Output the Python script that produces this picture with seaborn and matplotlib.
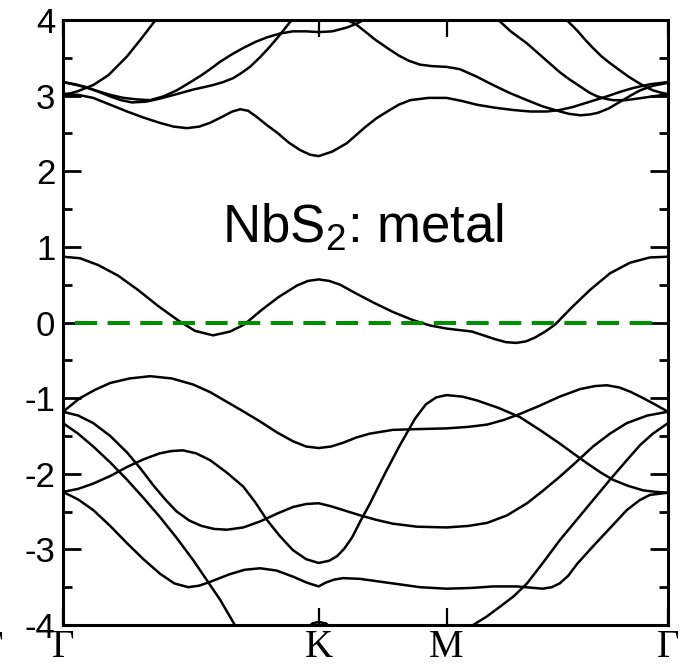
import matplotlib
matplotlib.use('Agg')
import matplotlib.pyplot as plt
import numpy as np
import pandas as pd
import seaborn as sns

# ---- path G-K-M-G, k given in % of the total path length ----
k_ticks = [0.0, 42.26, 63.40, 100.0]
k_labels = ['Γ', 'K', 'M', 'Γ']

# ---- bands (k, E in eV) ----
# conduction band crossing E_F
c_k = [0, 2.8, 5.8, 9.1, 12.4, 15.7, 19.0, 21.8, 24.8, 27.6, 29.9, 32.9, 35.7, 38.7, 40.5, 42.26,
       44.0, 45.8, 48.3, 51.4, 54.5, 57.9, 60.7, 63.4, 65.5, 67.6, 69.5, 71.4, 73.2, 74.9, 76.5,
       78.0, 79.7, 81.3, 84.1, 87.1, 90.4, 93.7, 97.0, 100]
c_e = [0.87, 0.85, 0.76, 0.62, 0.43, 0.22, 0.03, -0.11, -0.17, -0.12, -0.03, 0.17, 0.34, 0.49, 0.55, 0.57,
       0.55, 0.50, 0.39, 0.26, 0.14, 0.03, -0.04, -0.08, -0.10, -0.12, -0.17, -0.22, -0.26, -0.27, -0.25,
       -0.20, -0.12, -0.03, 0.20, 0.43, 0.65, 0.79, 0.86, 0.87]

# upper bands
u1_k = [0, 1.2, 2.5, 5.0, 7.5, 10.6, 13.0, 15.5]
u1_e = [3.02, 3.03, 3.06, 3.14, 3.27, 3.52, 3.76, 4.02]

l_k = [0, 2.5, 5.0, 7.8, 10.6, 13.3, 16.0, 18.3, 20.5, 22.5, 24.3, 26.3, 28.0, 29.3, 30.6, 32.0,
       33.7, 35.4, 37.3, 39.2, 40.8, 42.26, 44.5, 46.9, 49.9, 51.8, 53.6, 55.5, 57.4, 60.4, 63.4,
       65.9, 68.4, 71.4, 74.4, 77.2, 80.0, 82.1, 84.3, 87.1, 89.9, 92.1, 94.2, 97.0, 100]
l_e = [3.02, 3.01, 2.97, 2.88, 2.79, 2.71, 2.64, 2.59, 2.57, 2.59, 2.64, 2.72, 2.79, 2.82, 2.80, 2.72,
       2.61, 2.51, 2.38, 2.28, 2.22, 2.20, 2.26, 2.37, 2.58, 2.70, 2.79, 2.88, 2.94, 2.97, 2.97,
       2.93, 2.88, 2.84, 2.81, 2.79, 2.79, 2.81, 2.85, 2.92, 2.99, 3.05, 3.10, 3.15, 3.18]

p_k = [0, 2.8, 5.3, 7.8, 10.0, 12.2, 14.4, 16.6, 18.8, 20.9, 22.9, 24.5, 26.0, 28.0, 29.8, 31.8,
       33.7, 35.8, 38.0, 40.2, 42.26, 44.5, 46.9, 48.5, 50.4]
p_e = [3.18, 3.13, 3.07, 3.01, 2.97, 2.95, 2.94, 2.99, 3.07, 3.17, 3.27, 3.36, 3.45, 3.55, 3.63, 3.71,
       3.77, 3.82, 3.85, 3.85, 3.84, 3.85, 3.90, 3.95, 4.03]

q_k = [0, 2.0, 4.0, 5.9, 7.8, 9.6, 11.4, 13.7, 16.0, 18.8, 21.5, 23.2, 24.8, 26.5, 28.1, 29.5,
       30.9, 32.6, 34.0, 35.4, 36.7, 38.0]
q_e = [3.18, 3.15, 3.11, 3.05, 2.99, 2.94, 2.91, 2.92, 2.96, 3.02, 3.08, 3.11, 3.14, 3.18, 3.23, 3.30,
       3.38, 3.51, 3.63, 3.76, 3.89, 4.02]

r_k = [46.3, 48.3, 49.9, 51.6, 53.6, 55.5, 57.2, 59.0, 61.0, 63.4, 65.6, 67.0, 68.4, 71.1, 73.7,
       76.7, 79.2, 81.7, 83.6, 85.5, 87.0, 88.3, 90.2, 92.1, 93.8, 95.4, 97.5, 100]
r_e = [4.02, 3.95, 3.85, 3.74, 3.63, 3.53, 3.46, 3.41, 3.39, 3.38, 3.35, 3.30, 3.25, 3.14, 3.04,
       2.94, 2.86, 2.80, 2.76, 2.74, 2.75, 2.77, 2.83, 2.92, 3.00, 3.07, 3.13, 3.17]

s1_k = [71.7, 74.0, 76.7, 79.4, 82.1, 83.8, 85.5, 87.0, 88.3, 89.6, 90.9, 93.0, 94.9, 97.5, 100]
s1_e = [4.02, 3.85, 3.69, 3.50, 3.31, 3.21, 3.12, 3.04, 2.99, 2.96, 2.94, 2.94, 2.96, 2.99, 3.02]

s2_k = [83.0, 85.0, 86.3, 87.6, 89.0, 90.4, 92.1, 93.5, 94.9, 96.2, 97.5, 98.8, 100]
s2_e = [4.02, 3.86, 3.74, 3.63, 3.52, 3.43, 3.33, 3.25, 3.18, 3.12, 3.07, 3.04, 3.02]

# valence bands
v1_k = [0, 1.4, 2.8, 5.3, 7.8, 11.0, 14.4, 18.0, 21.5, 24.3, 27.1, 29.9, 32.6, 35.3, 38.0, 40.2,
        42.26, 44.3, 46.3, 48.5, 50.7, 54.5, 58.5, 63.4, 67.0, 70.1, 72.8, 75.5, 78.8, 82.1, 85.5,
        88.0, 89.9, 92.0, 93.9, 95.9, 98.0, 100]
v1_e = [-1.18, -1.09, -1.00, -0.89, -0.80, -0.74, -0.71, -0.74, -0.82, -0.92, -1.05, -1.18, -1.31,
        -1.45, -1.57, -1.64, -1.66, -1.64, -1.59, -1.52, -1.47, -1.42, -1.41, -1.40, -1.38, -1.35,
        -1.29, -1.21, -1.10, -0.98, -0.88, -0.84, -0.83, -0.86, -0.92, -1.00, -1.09, -1.18]

v2_k = [0, 2.5, 5.0, 7.8, 10.6, 13.3, 16.0, 17.9, 19.8, 22.0, 24.3, 27.0, 29.8, 31.8, 33.7, 35.8,
        38.0, 40.2, 42.26, 44.0, 45.3, 46.5, 47.8, 49.2, 50.7, 53.2, 55.7, 58.2, 60.0, 61.7, 63.4,
        66.0, 68.4, 72.0, 75.5, 78.8, 82.1, 84.5, 86.6, 88.8, 90.9, 93.4, 95.9, 98.0, 100]
v2_e = [-2.24, -2.20, -2.13, -2.03, -1.91, -1.81, -1.73, -1.70, -1.69, -1.73, -1.82, -1.98, -2.17,
        -2.38, -2.61, -2.82, -3.01, -3.13, -3.18, -3.15, -3.09, -2.99, -2.84, -2.62, -2.40, -2.00,
        -1.62, -1.27, -1.08, -0.99, -0.96, -0.98, -1.03, -1.13, -1.25, -1.42, -1.60, -1.74, -1.86,
        -1.98, -2.08, -2.16, -2.22, -2.24, -2.25]

v3_k = [0, 2.5, 5.0, 7.8, 10.6, 12.8, 14.9, 16.9, 18.8, 20.9, 22.9, 25.0, 27.1, 29.8, 32.6, 35.3,
        38.0, 40.2, 42.26, 44.3, 46.3, 49.1, 51.8, 54.5, 58.5, 63.4, 67.0, 70.1, 73.4, 76.7, 79.4,
        82.1, 84.9, 87.6, 90.4, 93.2, 96.6, 100]
v3_e = [-1.18, -1.23, -1.33, -1.50, -1.72, -1.93, -2.15, -2.34, -2.50, -2.62, -2.69, -2.73, -2.74,
        -2.71, -2.63, -2.53, -2.44, -2.40, -2.39, -2.43, -2.48, -2.55, -2.61, -2.66, -2.70, -2.71,
        -2.69, -2.65, -2.55, -2.39, -2.22, -2.04, -1.84, -1.64, -1.47, -1.33, -1.23, -1.18]

v4_k = [0, 2.5, 5.0, 7.8, 10.6, 13.3, 16.0, 18.4, 20.7, 22.5, 24.3, 27.5, 30.0, 32.6, 35.3, 38.0,
        40.3, 42.26, 43.4, 44.8, 46.3, 49.1, 54.5, 59.0, 63.4, 67.5, 71.1, 75.0, 79.3, 80.8, 82.1,
        83.5, 85.0, 87.6, 90.4, 93.2, 95.3, 97.0, 100]
v4_e = [-2.24, -2.34, -2.48, -2.69, -2.92, -3.13, -3.32, -3.45, -3.50, -3.48, -3.43, -3.33, -3.27,
        -3.25, -3.28, -3.36, -3.44, -3.49, -3.44, -3.40, -3.38, -3.39, -3.45, -3.50, -3.52, -3.51,
        -3.49, -3.49, -3.52, -3.50, -3.45, -3.35, -3.19, -2.96, -2.72, -2.48, -2.35, -2.28, -2.25]

v5_k = [0, 2.5, 5.0, 7.8, 10.6, 13.3, 16.0, 18.8, 21.5, 23.8, 26.0, 28.4, 30.0]
v5_e = [-1.33, -1.47, -1.64, -1.85, -2.08, -2.32, -2.57, -2.85, -3.14, -3.41, -3.67, -4.00, -4.20]

v6_k = [65.6, 67.8, 70.0, 72.2, 74.5, 76.7, 79.4, 82.1, 84.9, 87.6, 90.4, 93.2, 95.4, 97.5, 100]
v6_e = [-4.15, -4.00, -3.89, -3.76, -3.62, -3.45, -3.17, -2.88, -2.61, -2.35, -2.08, -1.82, -1.62,
        -1.47, -1.33]

v7_k = [40.3, 41.2, 42.26, 43.5, 44.3]
v7_e = [-4.05, -3.98, -3.96, -3.98, -4.05]

# Fermi level
e_fermi = 0.0
fermi_from, fermi_to = 2.0, 99.0

bands = {'c': (c_k, c_e), 'u1': (u1_k, u1_e), 'l': (l_k, l_e), 'p': (p_k, p_e),
         'q': (q_k, q_e), 'r': (r_k, r_e), 's1': (s1_k, s1_e), 's2': (s2_k, s2_e),
         'v1': (v1_k, v1_e), 'v2': (v2_k, v2_e), 'v3': (v3_k, v3_e), 'v4': (v4_k, v4_e),
         'v5': (v5_k, v5_e), 'v6': (v6_k, v6_e), 'v7': (v7_k, v7_e)}

rows = []
for name, (ks, es) in bands.items():
    for kk, ee in zip(ks, es):
        rows.append({'k': kk, 'E': ee, 'band': name})
df = pd.DataFrame(rows)

sns.set_style('ticks')
plt.rcParams['font.family'] = ['Liberation Sans', 'DejaVu Sans']
plt.rcParams['mathtext.default'] = 'regular'
for key in ['text.color', 'axes.labelcolor', 'xtick.color', 'ytick.color', 'axes.edgecolor']:
    plt.rcParams[key] = 'black'

fig = plt.figure(figsize=(6.84, 6.65), dpi=100)
ax = fig.add_axes([63 / 684, 1 - 625 / 665, 605 / 684, 605 / 665])

sns.lineplot(data=df, x='k', y='E', units='band', estimator=None, sort=False,
             color='black', linewidth=1.8, ax=ax, legend=False)
ax.plot([fermi_from, fermi_to], [e_fermi, e_fermi], color='#008f00', linewidth=2.9,
        dashes=(5.5, 2.6))

ax.set_xlim(0, 100)
ax.set_ylim(-4, 4)
ax.set_xlabel('')
ax.set_ylabel('')

ax.set_yticks(np.arange(-4, 5, 1))
ax.set_yticklabels([str(v) for v in range(-4, 5)])
ax.set_yticks(np.arange(-3.5, 4, 1), minor=True)
ax.set_xticks(k_ticks)
ax.set_xticklabels(k_labels, fontfamily='Liberation Serif', fontsize=28)

ax.tick_params(axis='y', which='major', direction='in', length=13, width=2,
               left=True, right=True, labelsize=25, pad=5.5)
ax.tick_params(axis='y', which='minor', direction='in', length=6.5, width=2,
               left=True, right=True)
ax.tick_params(axis='x', direction='in', length=12, width=1.6, top=True, bottom=True, pad=3)

for sp in ax.spines.values():
    sp.set_visible(True)
    sp.set_linewidth(2.2)

ax.text(26.3, 1.05, 'NbS$_2$: metal', fontsize=38, ha='left', va='baseline')

# cut-off label of the neighbouring panel
fig.text(-8 / 684, 1 - 630 / 665, 'Γ', fontfamily='Liberation Serif', fontsize=28,
         ha='center', va='top')

fig.savefig('out.png', dpi=100)
